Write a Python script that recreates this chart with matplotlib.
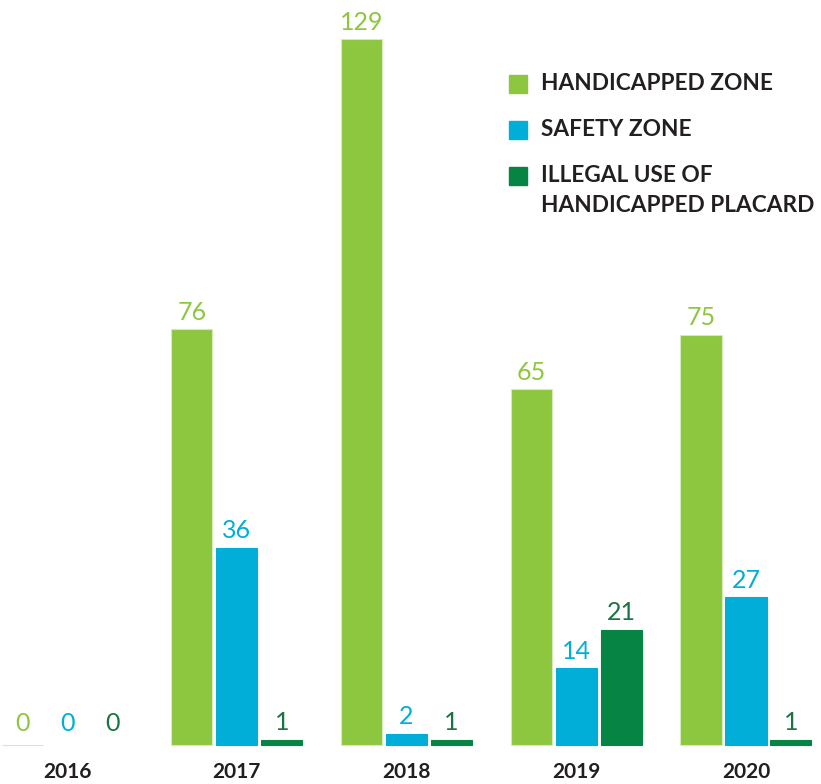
import numpy as np
import matplotlib.pyplot as plt
from matplotlib.patches import Rectangle

years = ['2016', '2017', '2018', '2019', '2020']
handicapped = [0, 76, 129, 65, 75]
safety = [0, 36, 2, 14, 27]
placard = [0, 1, 1, 21, 1]

series = [
    ('HANDICAPPED ZONE', handicapped, '#8dc63f', '#8dc63f'),
    ('SAFETY ZONE', safety, '#00aed8', '#00aed8'),
    ('ILLEGAL USE OF\nHANDICAPPED PLACARD', placard, '#068443', '#1a7443'),
]

plt.rcParams['font.family'] = ['Lato', 'DejaVu Sans']

fig = plt.figure(figsize=(8.21, 7.84), dpi=100)
ax = fig.add_axes([0, 0, 1, 1])

x = np.arange(len(years))
w = 0.242
step = 0.265

for i, (name, vals, col, tcol) in enumerate(series):
    pos = x + (i - 1) * step
    # only the empty green bar leaves a faint line on the baseline
    edge = ['#d6eabc' if i == 0 else 'none' if v == 0 else col for v in vals]
    bars = ax.bar(pos, vals, width=w, color=col, edgecolor=edge, linewidth=0.8)
    for b, v in zip(bars, vals):
        ax.annotate(str(v), (b.get_x() + b.get_width() / 2, v),
                    xytext=(0, 7 if v > 0 else 10), textcoords='offset points',
                    ha='center', va='baseline', fontsize=18, color=tcol)

ax.set_xlim(-0.395, 4.442)
ax.set_ylim(-7.13, 136.2)
ax.axis('off')

# year labels under each group
for xi, yr in zip(x, years):
    ax.text(xi, -4.9, yr, ha='center', va='center', fontsize=15,
            fontweight='bold', color='#231f20')

# legend, drawn by hand so the square sits on the first line of a wrapped label
W, H = 821, 784
ly = [84, 130, 176]
for (name, vals, col, tcol), yy in zip(series, ly):
    fig.patches.append(Rectangle((509 / W, 1 - (yy + 9) / H), 18 / W, 18 / H,
                                 transform=fig.transFigure, color=col))
    fig.text(541 / W, 1 - (yy - 11) / H, name, ha='left', va='top',
             fontsize=16.3, fontweight='bold', color='#231f20', linespacing=1.55)

fig.savefig('out.png', dpi=100)
